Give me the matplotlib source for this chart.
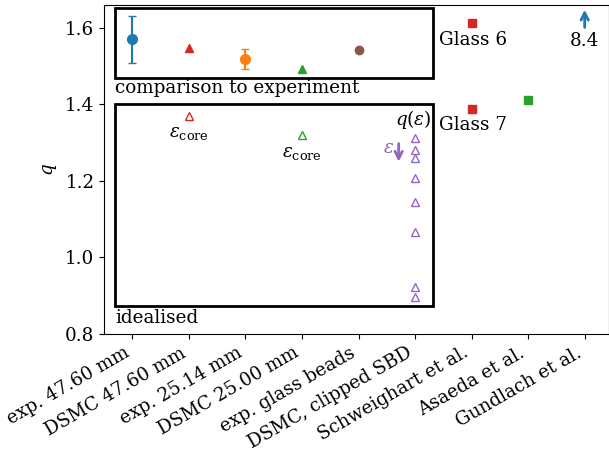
import matplotlib.pyplot as plt
from matplotlib.patches import Rectangle

plt.rcParams['font.family'] = 'DejaVu Serif'
plt.rcParams['mathtext.fontset'] = 'dejavuserif'
plt.rcParams['font.size'] = 13.2

labels = ['exp. 47.60 mm', 'DSMC 47.60 mm', 'exp. 25.14 mm', 'DSMC 25.00 mm',
          'exp. glass beads', 'DSMC, clipped SBD', 'Schweighart et al.',
          'Asaeda et al.', 'Gundlach et al.']

# comparison to experiment
exp_4760 = 1.570
exp_4760_err = [[0.061], [0.061]]
dsmc_4760 = 1.547
exp_2514 = 1.518
exp_2514_err = [[0.026], [0.028]]
dsmc_2500 = 1.493
exp_beads = 1.542

# idealised
dsmc_4760_core = 1.371
dsmc_2500_core = 1.320
q_eps = [1.313, 1.281, 1.259, 1.207, 1.144, 1.066, 0.922, 0.896]

# literature
schweighart = [1.612, 1.387]
asaeda = 1.412
gundlach = 8.4

fig, ax = plt.subplots(figsize=(6.09, 4.55), dpi=100)
fig.subplots_adjust(left=0.171, right=1.0, bottom=0.266, top=0.989)

ax.errorbar(0, exp_4760, yerr=exp_4760_err, fmt='o', color='C0', ms=7, capsize=3)
ax.plot(1, dsmc_4760, '^', color='C3', ms=6)
ax.errorbar(2, exp_2514, yerr=exp_2514_err, fmt='o', color='C1', ms=7, capsize=3)
ax.plot(3, dsmc_2500, '^', color='C2', ms=6)
ax.plot(4, exp_beads, 'o', color='C5', ms=6)

ax.plot(1, dsmc_4760_core, '^', mfc='none', mec='C3', ms=6)
ax.plot(3, dsmc_2500_core, '^', mfc='none', mec='C2', ms=6)
ax.plot([5] * len(q_eps), q_eps, '^', mfc='none', mec='C4', ms=6, ls='none')

ax.plot([6, 6], schweighart, 's', color='C3', ms=6, ls='none')
ax.plot(7, asaeda, 's', color='C2', ms=6)

# Gundlach value off the chart
ax.annotate('', xy=(8, 1.655), xytext=(8, 1.594),
            arrowprops=dict(arrowstyle='->', color='C0', lw=2))
ax.text(8, 1.565, f'{gundlach}', ha='center', va='center')

ax.text(5.42, 1.569, 'Glass 6', ha='left', va='center')
ax.text(5.42, 1.345, 'Glass 7', ha='left', va='center')

ax.text(1, 1.325, r'$\varepsilon_{\rm core}$', ha='center', va='center')
ax.text(3, 1.273, r'$\varepsilon_{\rm core}$', ha='center', va='center')
ax.text(5.29, 1.36, r'$q(\varepsilon)$', ha='right', va='center')
ax.text(4.63, 1.285, r'$\varepsilon$', ha='right', va='center', color='C4')
ax.annotate('', xy=(4.71, 1.243), xytext=(4.71, 1.305),
            arrowprops=dict(arrowstyle='->', color='C4', lw=2))

# grouping boxes
ax.add_patch(Rectangle((-0.3, 1.469), 5.61, 0.183, fill=False, lw=2, ec='k'))
ax.text(-0.3, 1.443, 'comparison to experiment', ha='left', va='center')
ax.add_patch(Rectangle((-0.3, 0.873), 5.61, 0.528, fill=False, lw=2, ec='k'))
ax.text(-0.3, 0.843, 'idealised', ha='left', va='center')

ax.set_xlim(-0.5, 8.43)
ax.set_ylim(0.8, 1.66)
ax.set_yticks([0.8, 1.0, 1.2, 1.4, 1.6])
ax.set_xticks(range(len(labels)))
ax.set_xticklabels(labels, rotation=30, ha='right')
ax.set_ylabel('$q$')

plt.savefig('out.png')
